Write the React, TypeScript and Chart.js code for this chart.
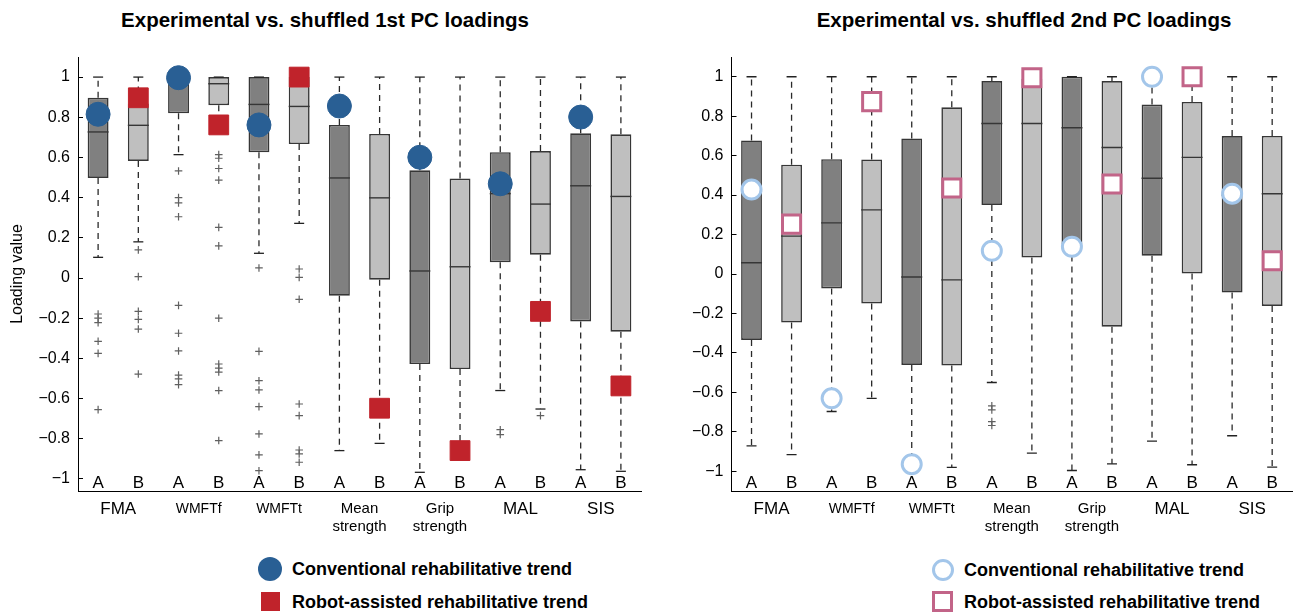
import React, { useEffect, useRef } from "react";
import { Chart, registerables } from "chart.js";

Chart.register(...registerables);

const FONT = "'Liberation Sans', Arial, Helvetica, sans-serif";

// ---------- shared labels ----------
const boxLabels = ["A", "B", "A", "B", "A", "B", "A", "B", "A", "B", "A", "B", "A", "B"];
const groupLabels = [["FMA"], ["WMFTf"], ["WMFTt"], ["Mean", "strength"], ["Grip", "strength"], ["MAL"], ["SIS"]];
const groupLabelSizes = [17, 14, 14, 15, 15, 17, 17];
const yTickValues = [-1, -0.8, -0.6, -0.4, -0.2, 0, 0.2, 0.4, 0.6, 0.8, 1];
const legendLabels = ["Conventional rehabilitative trend", "Robot-assisted rehabilitative trend"];

// ---------- 1st PC loadings ----------
const pc1Q1 = [0.498, 0.583, 0.82, 0.86, 0.626, 0.667, -0.088, -0.008, -0.428, -0.453, 0.078, 0.116, -0.216, -0.267];
const pc1Q3 = [0.897, 0.869, 1.0, 1.0, 1.0, 1.0, 0.762, 0.717, 0.536, 0.495, 0.626, 0.632, 0.72, 0.715];
const pc1Median = [0.727, 0.76, 0.975, 0.967, 0.864, 0.854, 0.498, 0.399, 0.035, 0.056, 0.42, 0.368, 0.459, 0.406];
const pc1Low = [0.103, 0.18, 0.614, 0.78, 0.123, 0.272, -0.859, -0.823, -0.967, -0.87, -0.56, -0.652, -0.954, -0.962];
const pc1High = [1, 1, 1, 1, 1, 1, 1, 1, 1, 1, 1, 1, 1, 1];
const pc1Outliers = [
  [-0.179, -0.2, -0.222, -0.315, -0.375, -0.655],
  [0.14, 0.007, -0.166, -0.206, -0.254, -0.478],
  [0.533, 0.4, 0.374, 0.305, -0.136, -0.275, -0.363, -0.483, -0.502, -0.531],
  [0.614, 0.596, 0.545, 0.487, 0.252, 0.16, -0.2, -0.428, -0.448, -0.468, -0.56, -0.809],
  [0.05, -0.365, -0.511, -0.557, -0.64, -0.776, -0.88, -0.959],
  [0.045, 0.003, -0.106, -0.627, -0.685, -0.856, -0.875, -0.917],
  [], [], [], [],
  [-0.755, -0.779],
  [-0.685],
  [], [],
];
const pc1Conventional = [0.815, 0.997, 0.762, 0.856, 0.601, 0.469, 0.801];
const pc1Robot = [0.897, 0.762, 1.0, -0.648, -0.859, -0.166, -0.537];

// ---------- 2nd PC loadings ----------
const pc2Q1 = [-0.334, -0.246, -0.073, -0.149, -0.461, -0.464, 0.35, 0.084, 0.15, -0.267, 0.093, 0.003, -0.094, -0.162];
const pc2Q3 = [0.677, 0.554, 0.582, 0.581, 0.687, 0.845, 0.978, 0.99, 1.0, 0.978, 0.859, 0.872, 0.699, 0.7];
const pc2Median = [0.057, 0.192, 0.259, 0.325, -0.015, -0.03, 0.763, 0.763, 0.741, 0.641, 0.485, 0.591, 0.4, 0.407];
const pc2Low = [-0.871, -0.916, -0.697, -0.63, -0.97, -0.98, -0.55, -0.908, -0.996, -0.962, -0.847, -0.967, -0.82, -0.979];
const pc2High = [1, 1, 1, 1, 1, 1, 1, 1, 1, 1, 1, 1, 1, 1];
const pc2Outliers = [[], [], [], [], [], [], [-0.668, -0.689, -0.748, -0.768], [], [], [], [], [], [], []];
const pc2Conventional = [0.428, -0.63, -0.964, 0.118, 0.138, 1.0, 0.407];
const pc2Robot = [0.253, 0.874, 0.436, 0.995, 0.456, 1.0, 0.067];

// ---------- styles ----------
const DARK = "#808080";
const LIGHT = "#bfbfbf";
const EDGE = "#363636";
const BLUE = "#295f94";
const RED = "#c0232b";
const LBLUE = "#a3c6ea";
const PINK = "#c26488";

type Panel = {
  q1: number[]; q3: number[]; median: number[]; low: number[]; high: number[];
  outliers: number[][]; conv: number[]; robot: number[];
  yMin: number; yMax: number; axisWidth: number; padRight: number; showTitle: boolean;
  convStyle: any; robotStyle: any;
};

const fmt = (v: number) => (v === 0 ? "0" : (v < 0 ? "\u2212" : "") + String(Math.abs(v)));

function buildConfig(p: Panel): any {
  const whiskers: any[] = [];
  const caps: any[] = [];
  const outs: any[] = [];
  boxLabels.forEach((_, i) => {
    whiskers.push({ x: i, y: p.q3[i] }, { x: i, y: p.high[i] }, { x: i, y: null });
    whiskers.push({ x: i, y: p.q1[i] }, { x: i, y: p.low[i] }, { x: i, y: null });
    caps.push({ x: i, y: p.high[i] }, { x: i, y: p.low[i] });
    p.outliers[i].forEach((v) => outs.push({ x: i, y: v }));
  });
  const datasets: any[] = [
    {
      type: "line", label: legendLabels[0],
      data: p.conv.map((v, g) => ({ x: 2 * g, y: v })),
      showLine: false, order: 0, ...p.convStyle,
    },
    {
      type: "line", label: legendLabels[1],
      data: p.robot.map((v, g) => ({ x: 2 * g + 1, y: v })),
      showLine: false, order: 0, ...p.robotStyle,
    },
    {
      type: "line", label: "median",
      data: p.median.map((v, i) => ({ x: i, y: v })),
      showLine: false, order: 1, pointStyle: "line", pointRadius: 10.5,
      pointBorderWidth: 1.4, pointBorderColor: EDGE,
    },
    {
      type: "line", label: "caps", data: caps, showLine: false, order: 2,
      pointStyle: "line", pointRadius: 5, pointBorderWidth: 1.3, pointBorderColor: "#222",
    },
    {
      type: "line", label: "outliers", data: outs, showLine: false, order: 2,
      pointStyle: "cross", pointRadius: 3.8, pointBorderWidth: 1.2, pointBorderColor: "#606060",
    },
    {
      type: "line", label: "whiskers", data: whiskers, order: 3,
      borderColor: "#2a2a2a", borderWidth: 1.3, borderDash: [6, 5], pointRadius: 0,
      spanGaps: false, fill: false, tension: 0,
    },
    {
      type: "bar", label: "boxes",
      data: boxLabels.map((_, i) => ({ x: i, y: [p.q1[i], p.q3[i]] })),
      backgroundColor: boxLabels.map((_, i) => (i % 2 === 0 ? DARK : LIGHT)),
      borderColor: EDGE, borderWidth: 1.6, borderSkipped: false,
      barPercentage: 0.52, categoryPercentage: 1, order: 5,
    },
  ];
  return {
    type: "bar",
    data: { datasets },
    options: {
      responsive: false,
      animation: false,
      events: [],
      layout: { padding: { top: 57, right: p.padRight, left: 0, bottom: 0 } },
      plugins: { legend: { display: false }, tooltip: { enabled: false }, title: { display: false } },
      scales: {
        x: {
          type: "linear", position: "bottom", weight: 0, min: -0.5, max: 13.5, offset: false,
          grid: { display: false, drawTicks: false },
          border: { display: true, color: "#000", width: 1 },
          afterBuildTicks: (s: any) => { s.ticks = boxLabels.map((_, i) => ({ value: i })); },
          afterFit: (s: any) => { s.height = 0; },
          ticks: {
            autoSkip: false, maxRotation: 0, mirror: true, padding: -3, color: "#000",
            font: { family: FONT, size: 17 },
            callback: (v: number) => boxLabels[v] ?? "",
          },
        },
        x2: {
          type: "linear", position: "bottom", weight: 1, min: -0.5, max: 13.5, offset: false,
          grid: { display: false, drawTicks: false },
          border: { display: false },
          afterBuildTicks: (s: any) => { s.ticks = groupLabels.map((_, g) => ({ value: 2 * g + 0.5 })); },
          afterFit: (s: any) => { s.height = 54; },
          ticks: {
            autoSkip: false, maxRotation: 0, padding: 9, color: "#000",
            font: (ctx: any) => ({ family: FONT, size: groupLabelSizes[ctx.index] ?? 15, lineHeight: "18px" }),
            callback: (_v: number, i: number) => groupLabels[i],
          },
        },
        y: {
          type: "linear", min: p.yMin, max: p.yMax,
          grid: { display: true, drawOnChartArea: false, drawTicks: true, tickLength: -5, color: "#000" },
          border: { display: true, color: "#000", width: 1 },
          afterBuildTicks: (s: any) => { s.ticks = yTickValues.map((v) => ({ value: v })); },
          afterFit: (s: any) => { s.width = p.axisWidth; },
          ticks: { padding: 13, color: "#000", font: { family: FONT, size: 16 }, callback: (v: number) => fmt(v) },
          title: {
            display: p.showTitle, text: "Loading value", color: "#000",
            font: { family: FONT, size: 16 }, padding: { top: 8, bottom: 0 },
          },
        },
      },
    },
  };
}

const leftPanel: Panel = {
  q1: pc1Q1, q3: pc1Q3, median: pc1Median, low: pc1Low, high: pc1High, outliers: pc1Outliers,
  conv: pc1Conventional, robot: pc1Robot, yMin: -1.06, yMax: 1.1, axisWidth: 78, padRight: 4, showTitle: true,
  convStyle: { pointStyle: "circle", pointRadius: 12, pointBackgroundColor: BLUE, pointBorderColor: BLUE, pointBorderWidth: 1 },
  robotStyle: { pointStyle: "rect", pointRadius: 14, pointBackgroundColor: RED, pointBorderColor: RED, pointBorderWidth: 1 },
};

const rightPanel: Panel = {
  q1: pc2Q1, q3: pc2Q3, median: pc2Median, low: pc2Low, high: pc2High, outliers: pc2Outliers,
  conv: pc2Conventional, robot: pc2Robot, yMin: -1.1, yMax: 1.1, axisWidth: 75.5, padRight: 2.5, showTitle: false,
  convStyle: { pointStyle: "circle", pointRadius: 9.5, pointBackgroundColor: "#fff", pointBorderColor: LBLUE, pointBorderWidth: 3 },
  robotStyle: { pointStyle: "rect", pointRadius: 12.8, pointBackgroundColor: "#fff", pointBorderColor: PINK, pointBorderWidth: 3 },
};

function PanelChart({ panel, left, width }: { panel: Panel; left: number; width: number }) {
  const ref = useRef<HTMLCanvasElement | null>(null);
  useEffect(() => {
    if (!ref.current) return;
    const chart = new Chart(ref.current, buildConfig(panel));
    return () => chart.destroy();
  }, [panel]);
  return (
    <canvas ref={ref} width={width} height={545}
      style={{ position: "absolute", left, top: 0, width, height: 545 }} />
  );
}

const titleStyle: React.CSSProperties = {
  position: "absolute", top: 8, width: 600, textAlign: "center",
  fontFamily: FONT, fontWeight: "bold", fontSize: 20.5, lineHeight: "24px", color: "#000", whiteSpace: "nowrap",
};
const legendText: React.CSSProperties = {
  position: "absolute", fontFamily: FONT, fontWeight: "bold", fontSize: 18, lineHeight: "20px",
  color: "#000", whiteSpace: "nowrap",
};

export default function App() {
  return (
    <div style={{ position: "absolute", left: 0, top: 0, width: 1308, height: 613, background: "#fff", overflow: "hidden" }}>
      <div style={{ ...titleStyle, left: 325 - 300 }}>Experimental vs. shuffled 1st PC loadings</div>
      <div style={{ ...titleStyle, left: 1024 - 300 }}>Experimental vs. shuffled 2nd PC loadings</div>
      <PanelChart panel={leftPanel} left={0} width={656} />
      <PanelChart panel={rightPanel} left={656} width={652} />

      <div style={{ position: "absolute", left: 258, top: 557, width: 24, height: 24, borderRadius: "50%", background: BLUE }} />
      <div style={{ ...legendText, left: 292, top: 559 }}>{legendLabels[0]}</div>
      <div style={{ position: "absolute", left: 261, top: 592, width: 19, height: 19, background: RED }} />
      <div style={{ ...legendText, left: 292, top: 592 }}>{legendLabels[1]}</div>

      <div style={{ position: "absolute", left: 932, top: 559, width: 22, height: 22, boxSizing: "border-box", borderRadius: "50%", border: `3px solid ${LBLUE}`, background: "#fff" }} />
      <div style={{ ...legendText, left: 964, top: 560 }}>{legendLabels[0]}</div>
      <div style={{ position: "absolute", left: 932, top: 591, width: 21, height: 21, boxSizing: "border-box", border: `3px solid ${PINK}`, background: "#fff" }} />
      <div style={{ ...legendText, left: 964, top: 592 }}>{legendLabels[1]}</div>
    </div>
  );
}
